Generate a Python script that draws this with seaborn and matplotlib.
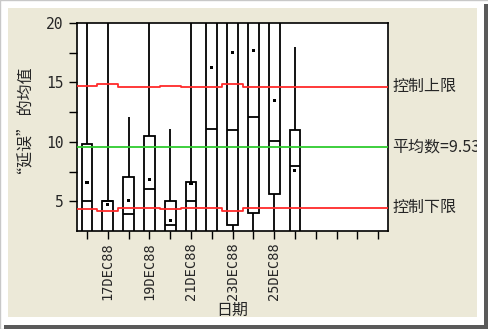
import numpy as np
import pandas as pd
import matplotlib
matplotlib.use("Agg")
import matplotlib.pyplot as plt
import seaborn as sns
from matplotlib.patches import Rectangle
from matplotlib.transforms import Bbox, TransformedBbox, blended_transform_factory
from matplotlib.ticker import FixedLocator

# ---------------- data ----------------
box_days = [16, 17, 18, 19, 20, 21, 22, 23, 24, 25, 26]
whisker_low = [1.0, 1.0, 1.0, 1.0, 1.0, 1.0, 1.0, 1.0, 1.0, 1.0, 1.0]
q1 = [2.0, 2.0, 2.0, 2.0, 2.0, 2.0, 2.0, 3.0, 4.0, 5.6, 2.0]
median = [5.0, 5.0, 3.9, 6.0, 3.0, 5.0, 11.1, 11.0, 12.1, 10.05, 8.0]
q3 = [9.8, 5.0, 7.07, 10.5, 5.0, 6.6, 22.0, 22.0, 22.0, 22.0, 11.0]
whisker_high = [25.0, 25.0, 12.1, 25.0, 11.1, 25.0, 25.0, 25.0, 25.0, 25.0, 18.0]
means = [6.6, 4.7, 5.1, 6.87, 3.4, 6.5, 16.25, 17.5, 17.7, 13.5, 7.6]

limit_days = list(range(16, 31))
ucl = [14.74, 14.89, 14.62, 14.62, 14.74, 14.62, 14.62, 14.89,
       14.62, 14.62, 14.62, 14.62, 14.62, 14.62, 14.62]
lcl = [4.32, 4.17, 4.44, 4.44, 4.32, 4.44, 4.44, 4.17,
       4.44, 4.44, 4.44, 4.44, 4.44, 4.44, 4.44]
center_value = 9.53

tick_days = list(range(16, 31))
tick_labels = ["", "17DEC88", "", "19DEC88", "", "21DEC88", "", "23DEC88",
               "", "25DEC88", "", "", "", "", ""]

ucl_label = "控制上限"
center_label = "平均数=9.53"
lcl_label = "控制下限"
x_title = "日期"
y_title = "“延误” 的均值"

# ---------------- build long-form table for seaborn ----------------
rows = []
for d, a, b, c, e, f in zip(box_days, whisker_low, q1, median, q3, whisker_high):
    for v in (a, b, c, e, f):
        rows.append({"date": d, "value": v})
df = pd.DataFrame(rows)
means_df = pd.DataFrame({"date": box_days, "mean": means})

edges = np.append(np.array(limit_days, dtype=float) - 0.5, limit_days[-1] + 0.5)
limits_df = pd.DataFrame({
    "x": edges,
    "ucl": ucl + [ucl[-1]],
    "lcl": lcl + [lcl[-1]],
})

# ---------------- style ----------------
sns.set_style("white")
plt.rcParams["font.family"] = ["Noto Sans CJK SC", "DejaVu Sans"]

W, H = 489, 329
fig = plt.figure(figsize=(W / 100, H / 100), dpi=100)
fig.patch.set_facecolor("white")

def fx(px):
    return px / W

def fy(py):
    return 1 - py / H

# beige panel and frame (behind the axes)
fig.patches.append(Rectangle((fx(8), fy(317)), fx(477) - fx(8), fy(8) - fy(317),
                             transform=fig.transFigure, facecolor="#ECE9D8",
                             edgecolor="none", zorder=-10))
fig.patches.append(Rectangle((0, 0), 1, 1, transform=fig.transFigure,
                             facecolor="none", edgecolor="#C8C8C8", lw=1.0, zorder=-10))
fig.patches.append(Rectangle((fx(484), fy(329)), fx(4), fy(4) - fy(329),
                             transform=fig.transFigure, facecolor="#5a5a5a",
                             edgecolor="none", zorder=-9))
fig.patches.append(Rectangle((fx(4), fy(329)), fx(488) - fx(4), fy(325) - fy(329),
                             transform=fig.transFigure, facecolor="#5a5a5a",
                             edgecolor="none", zorder=-9))

ax = fig.add_axes([fx(76.6), fy(231), fx(388.5) - fx(76.6), fy(23) - fy(231)])
ax.set_facecolor("white")

sns.boxplot(data=df, x="date", y="value", native_scale=True, width=0.52,
            whis=(0, 100), color="white", saturation=1, linecolor="black",
            linewidth=1.3, showfliers=False, showcaps=False, ax=ax, zorder=2)

sns.lineplot(data=limits_df, x="x", y="ucl", drawstyle="steps-post",
             color="#ff2a2a", lw=1.3, ax=ax, zorder=5)
sns.lineplot(data=limits_df, x="x", y="lcl", drawstyle="steps-post",
             color="#ff2a2a", lw=1.3, ax=ax, zorder=5)
ax.axhline(center_value, color="#2ecc2e", lw=1.3, zorder=5)

sns.scatterplot(data=means_df, x="date", y="mean", marker="s", s=5,
                color="black", edgecolor="none", ax=ax, zorder=6)

ax.set_xlim(15.5, 30.5)
ax.set_ylim(2.5, 20)

ax.xaxis.set_major_locator(FixedLocator(tick_days))
ax.set_xticklabels(tick_labels, rotation=90, family="DejaVu Sans Mono", fontsize=9.8)
ax.yaxis.set_major_locator(FixedLocator([5, 10, 15, 20]))
ax.yaxis.set_minor_locator(FixedLocator([7.5, 12.5, 17.5]))
ax.set_yticklabels(["5", "10", "15", "20"], family="DejaVu Sans Mono", fontsize=10.5)
ax.tick_params(axis="both", which="both", direction="out", length=5.5, width=1.0,
               color="black", pad=2.5, bottom=True, left=True)
ax.tick_params(axis="y", which="major", pad=4)

for s in ax.spines.values():
    s.set_color("black")
    s.set_linewidth(1.2)
    s.set_visible(True)

ax.set_xlabel(x_title, fontsize=11.5)
ax.set_ylabel(y_title, fontsize=11.5)
ax.xaxis.set_label_coords(0.5, -0.382)
ax.xaxis.label.set_verticalalignment("center")
ax.yaxis.set_label_coords(-0.163, 0.51)
ax.yaxis.label.set_verticalalignment("center")

clip = TransformedBbox(Bbox.from_extents(0, fy(317), fx(477), 1), fig.transFigure)
trans = blended_transform_factory(ax.transAxes, ax.transData)
for label, yv in ((ucl_label, ucl[-1]), (center_label, center_value), (lcl_label, lcl[-1])):
    t = ax.text(1.013, yv, label, transform=trans, fontsize=11.5, va="center", ha="left")
    t.set_clip_box(clip)
    t.set_clip_on(True)

fig.savefig("out.png", dpi=100)
